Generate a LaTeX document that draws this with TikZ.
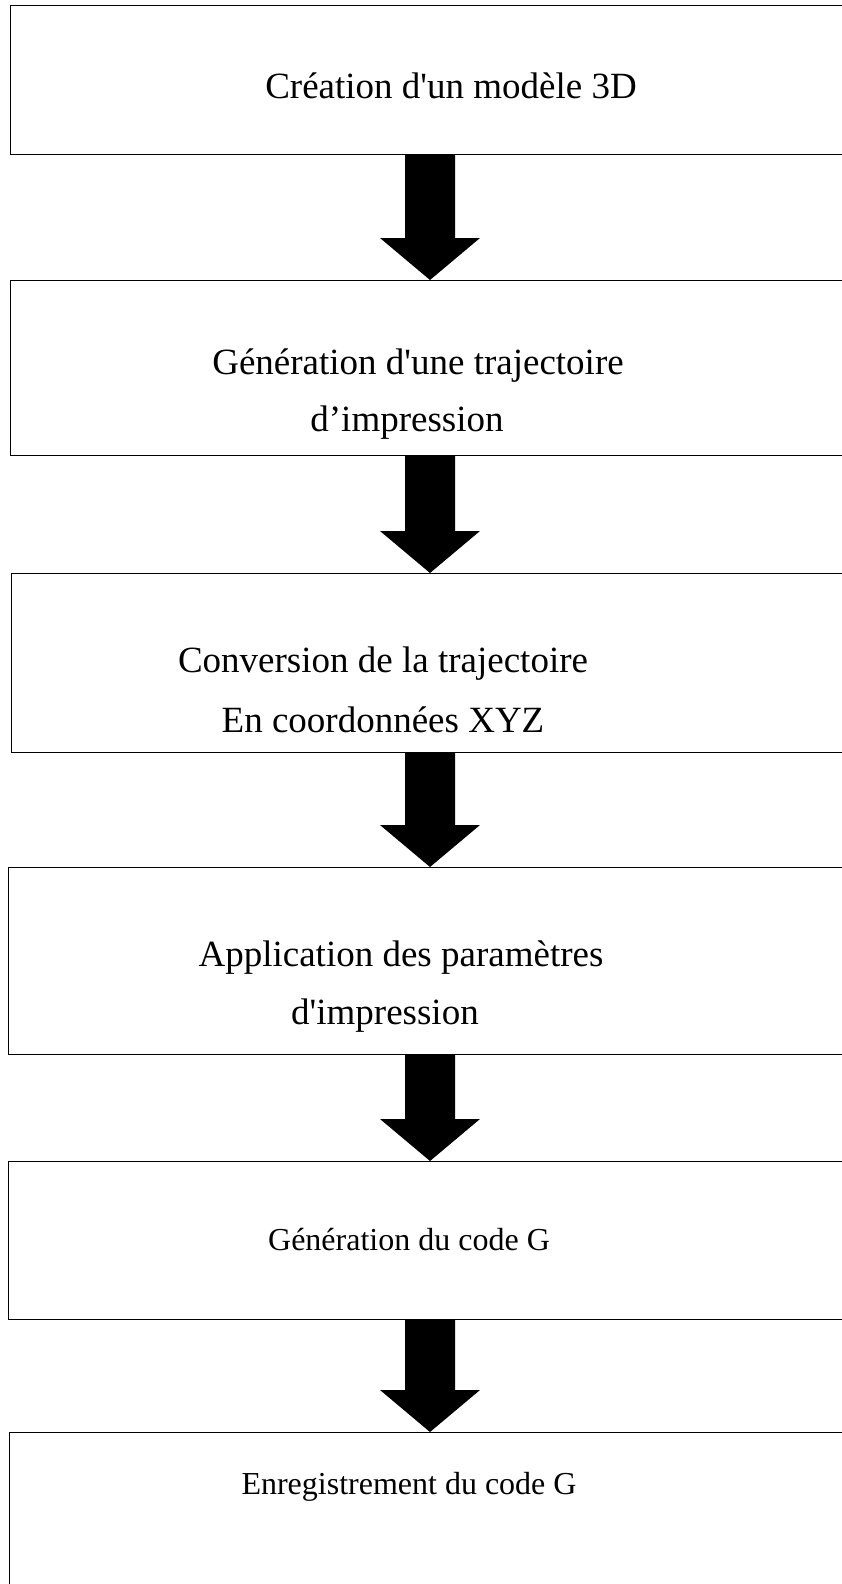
\documentclass[tikz,border=0pt]{standalone}
\usepackage{fontspec}
\setmainfont{Liberation Serif}
\usetikzlibrary{calc}
\tikzset{
  x=1pt, y=-1pt,
  stepbox/.style={draw=black, line width=1.1pt, fill=white, rectangle, anchor=north west, inner sep=0pt},
  bigtxt/.style={font=\fontsize{37}{44}\selectfont, anchor=base, inner sep=0pt},
  smalltxt/.style={font=\fontsize{32}{38}\selectfont, anchor=base, inner sep=0pt},
}
\newcommand\blockarrow[2]{%
  \fill[black] let \p1=(#1), \p2=(#2) in
    (\x1-25pt,\y1) -- (\x1+25pt,\y1) -- (\x1+25pt,\y2+42pt) -- (\x1+50pt,\y2+42pt)
    -- (\x2,\y2) -- (\x1-50pt,\y2+42pt) -- (\x1-25pt,\y2+42pt) -- cycle;}
\begin{document}
\begin{tikzpicture}
\useasboundingbox (0,0) rectangle (842,1584);
\clip (0,0) rectangle (842,1584);
\fill[white] (0,0) rectangle (842,1584);
\coordinate (ax) at (430,0);

\node[stepbox, minimum width=880pt, minimum height=149pt] (b1) at (10,5) {};
\node[stepbox, minimum width=880pt, minimum height=175pt] (b2) at (10,280) {};
\node[stepbox, minimum width=880pt, minimum height=179pt] (b3) at (11,573) {};
\node[stepbox, minimum width=880pt, minimum height=187pt] (b4) at (8,867) {};
\node[stepbox, minimum width=880pt, minimum height=158pt] (b5) at (8,1161) {};
\node[stepbox, minimum width=880pt, minimum height=200pt] (b6) at (9,1432) {};

\node[bigtxt] (t1) at (451,99) {Création d\textquotesingle un modèle 3D};
\node[bigtxt] (t2a) at (418,374) {Génération d\textquotesingle une trajectoire};
\node[bigtxt] (t2b) at (407,431) {d’impression};
\node[bigtxt] (t3a) at (383,672) {Conversion de la trajectoire};
\node[bigtxt] (t3b) at (383,732) {En coordonnées XYZ};
\node[bigtxt] (t4a) at (401,966) {Application des paramètres};
\node[bigtxt] (t4b) at (385,1024) {d\textquotesingle impression};
\node[smalltxt] (t5) at (409,1250) {Génération du code G};
\node[smalltxt] (t6) at (409,1494) {Enregistrement du code G};

\blockarrow{b1.south -| ax}{b2.north -| ax}
\blockarrow{b2.south -| ax}{b3.north -| ax}
\blockarrow{b3.south -| ax}{b4.north -| ax}
\blockarrow{b4.south -| ax}{b5.north -| ax}
\blockarrow{b5.south -| ax}{b6.north -| ax}
\end{tikzpicture}
\end{document}
